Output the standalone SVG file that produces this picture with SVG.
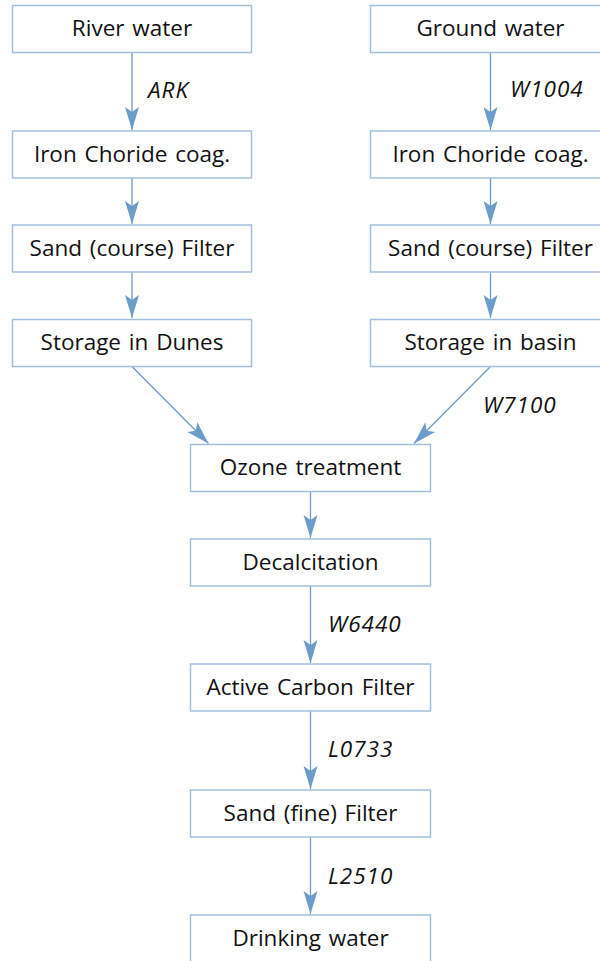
<svg xmlns="http://www.w3.org/2000/svg" width="600" height="961" viewBox="0 0 600 961">
<style>
.box{fill:#ffffff;stroke:#a3c1de;stroke-width:1.5}
.t{font-family:"Open Sans","DejaVu Sans",sans-serif;font-size:22.5px;word-spacing:2px;fill:#111111;text-anchor:middle}
.lbl{font-family:"Open Sans","DejaVu Sans",sans-serif;font-size:22.5px;letter-spacing:1px;font-style:italic;fill:#111111}
.c{stroke:#6d9bca;stroke-width:1.3;fill:none;marker-end:url(#ah)}
</style>
<defs>
<marker id="ah" markerUnits="userSpaceOnUse" markerWidth="26" markerHeight="18" viewBox="-25 -9 26 18" refX="0" refY="0" orient="auto">
<path d="M0,0 L-23,-7 L-18,0 L-23,7 Z" fill="#6d9bca"/>
</marker>
</defs>
<rect width="600" height="961" fill="#ffffff"/>
<g id="connectors">
<line class="c" x1="132" y1="52" x2="132" y2="130"/>
<line class="c" x1="132" y1="178" x2="132" y2="224"/>
<line class="c" x1="132" y1="272" x2="132" y2="318"/>
<line class="c" x1="490.5" y1="52" x2="490.5" y2="130"/>
<line class="c" x1="490.5" y1="178" x2="490.5" y2="224"/>
<line class="c" x1="490.5" y1="272" x2="490.5" y2="318"/>
<line class="c" x1="132" y1="366.5" x2="208.5" y2="443.5"/>
<line class="c" x1="490.5" y1="366.5" x2="414" y2="443.5"/>
<line class="c" x1="310.5" y1="491.5" x2="310.5" y2="538"/>
<line class="c" x1="310.5" y1="586" x2="310.5" y2="663"/>
<line class="c" x1="310.5" y1="711" x2="310.5" y2="789"/>
<line class="c" x1="310.5" y1="837" x2="310.5" y2="914"/>
<text class="lbl" x="148" y="98">ARK</text>
<text class="lbl" x="510" y="97">W1004</text>
<text class="lbl" x="483" y="413">W7100</text>
<text class="lbl" x="328" y="632">W6440</text>
<text class="lbl" x="328" y="757">L0733</text>
<text class="lbl" x="328" y="884">L2510</text>
</g>
<g id="river"><rect class="box" x="12.5" y="5.5" width="239" height="47"/><text class="t" x="132" y="36">River water</text></g>
<g id="iron1"><rect class="box" x="12.5" y="131" width="239" height="47"/><text class="t" x="132" y="162">Iron Choride coag.</text></g>
<g id="sand1"><rect class="box" x="12.5" y="225" width="239" height="47"/><text class="t" x="132" y="256">Sand (course) Filter</text></g>
<g id="dunes"><rect class="box" x="12.5" y="319.5" width="239" height="47"/><text class="t" x="132" y="350">Storage in Dunes</text></g>
<g id="ground"><rect class="box" x="370.5" y="5.5" width="240" height="47"/><text class="t" x="490.5" y="36">Ground water</text></g>
<g id="iron2"><rect class="box" x="370.5" y="131" width="240" height="47"/><text class="t" x="490.5" y="162">Iron Choride coag.</text></g>
<g id="sand2"><rect class="box" x="370.5" y="225" width="240" height="47"/><text class="t" x="490.5" y="256">Sand (course) Filter</text></g>
<g id="basin"><rect class="box" x="370.5" y="319.5" width="240" height="47"/><text class="t" x="490.5" y="350">Storage in basin</text></g>
<g id="ozone"><rect class="box" x="190.5" y="444.5" width="240" height="47"/><text class="t" x="310.5" y="475">Ozone treatment</text></g>
<g id="decalc"><rect class="box" x="190.5" y="539" width="240" height="47"/><text class="t" x="310.5" y="570">Decalcitation</text></g>
<g id="carbon"><rect class="box" x="190.5" y="664" width="240" height="47"/><text class="t" x="310.5" y="695">Active Carbon Filter</text></g>
<g id="sandfine"><rect class="box" x="190.5" y="790" width="240" height="47"/><text class="t" x="310.5" y="821">Sand (fine) Filter</text></g>
<g id="drinking"><rect class="box" x="190.5" y="915" width="240" height="47"/><text class="t" x="310.5" y="946">Drinking water</text></g>
</svg>
